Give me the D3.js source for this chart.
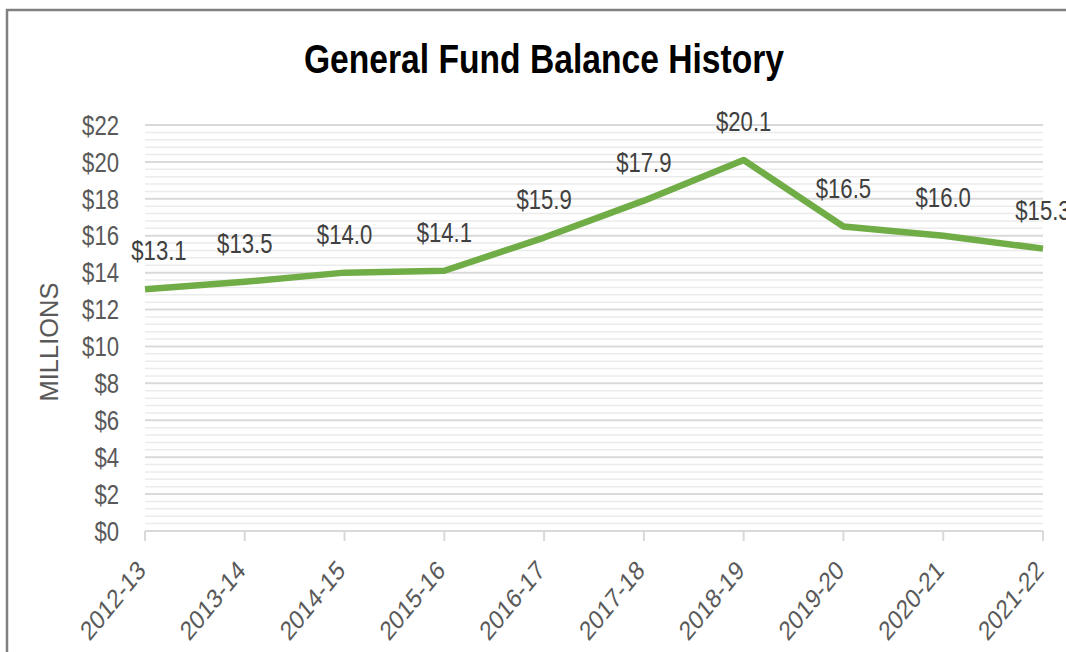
<!DOCTYPE html>
<html>
<head>
<meta charset="utf-8">
<script src="https://cdn.jsdelivr.net/npm/d3@7"></script>
<style>
  body { margin: 0; background: #fff; }
  text { font-family: "Liberation Sans", Arial, sans-serif; }
</style>
</head>
<body>
<svg id="chart" width="1066" height="652"></svg>
<script>
// fiscal years and general fund balance ($ millions)
const years = ["2012-13", "2013-14", "2014-15", "2015-16", "2016-17",
               "2017-18", "2018-19", "2019-20", "2020-21", "2021-22"];
const balances = [13.1, 13.5, 14.0, 14.1, 15.9, 17.9, 20.1, 16.5, 16.0, 15.3];
const yTickValues = [0, 2, 4, 6, 8, 10, 12, 14, 16, 18, 20, 22];

const svg = d3.select("#chart");
const sx = 0.82; // the original text is squeezed horizontally

var margin = {left: 145, right: 1043, top: 125, bottom: 531};

var x = d3.scalePoint()
    .domain(years)
    .range([margin.left, margin.right]);

var y = d3.scaleLinear()
    .domain([0, 22])
    .range([margin.bottom, margin.top]);

// outer frame
svg.append("rect")
    .attr("x", 7)
    .attr("y", 10)
    .attr("width", 1100)
    .attr("height", 700)
    .attr("fill", "#fff")
    .attr("stroke", "#808080")
    .attr("stroke-width", 2.5);

// title
svg.append("text")
    .attr("transform", "translate(544,73) scale(" + sx + ",1)")
    .attr("text-anchor", "middle")
    .attr("font-size", 41)
    .attr("font-weight", "bold")
    .attr("fill", "#000")
    .text("General Fund Balance History");

// minor gridlines
var minor = d3.range(0, 22.001, 0.4).filter(v => Math.abs(v / 2 - Math.round(v / 2)) > 1e-6);
svg.append("g").selectAll("line")
    .data(minor)
  .enter().append("line")
    .attr("x1", margin.left)
    .attr("x2", margin.right)
    .attr("y1", d => y(d))
    .attr("y2", d => y(d))
    .attr("stroke", "#ebebeb")
    .attr("stroke-width", 1.5);

// major gridlines
svg.append("g").selectAll("line")
    .data(yTickValues.filter(d => d > 0))
  .enter().append("line")
    .attr("x1", margin.left)
    .attr("x2", margin.right)
    .attr("y1", d => y(d))
    .attr("y2", d => y(d))
    .attr("stroke", "#d9d9d9")
    .attr("stroke-width", 2);

// y tick labels
svg.append("g").selectAll("text")
    .data(yTickValues)
  .enter().append("text")
    .attr("transform", d => "translate(119," + y(d) + ") scale(" + sx + ",1)")
    .attr("dy", "0.36em")
    .attr("text-anchor", "end")
    .attr("font-size", 27)
    .attr("fill", "#595959")
    .text(d => "$" + d);

// y axis title
svg.append("text")
    .attr("transform", "translate(58,342) rotate(-90)")
    .attr("text-anchor", "middle")
    .attr("font-size", 25.5)
    .attr("fill", "#595959")
    .text("MILLIONS");

// x axis line and ticks
var xAxis = svg.append("g");
xAxis.append("line")
    .attr("x1", margin.left)
    .attr("x2", margin.right)
    .attr("y1", y(0))
    .attr("y2", y(0))
    .attr("stroke", "#d9d9d9")
    .attr("stroke-width", 2);
xAxis.selectAll(".tick")
    .data(years)
  .enter().append("line")
    .attr("class", "tick")
    .attr("x1", d => x(d))
    .attr("x2", d => x(d))
    .attr("y1", y(0))
    .attr("y2", y(0) + 10)
    .attr("stroke", "#d9d9d9")
    .attr("stroke-width", 2);

// x labels, rotated
xAxis.selectAll(".xlab")
    .data(years)
  .enter().append("text")
    .attr("class", "xlab")
    .attr("transform", d => "translate(" + (x(d) + 2) + ",572) scale(" + sx + ",1) rotate(-45)")
    .attr("text-anchor", "end")
    .attr("font-size", 27)
    .attr("fill", "#595959")
    .text(d => d);

// the line
var pts = years.map((d, i) => ({year: d, value: balances[i]}));
var line = d3.line()
    .x(d => x(d.year))
    .y(d => y(d.value));

svg.append("path")
    .datum(pts)
    .attr("d", line)
    .attr("fill", "none")
    .attr("stroke", "#70ad47")
    .attr("stroke-width", 6.5)
    .attr("stroke-linejoin", "round");

// data labels
svg.append("g").selectAll("text")
    .data(pts)
  .enter().append("text")
    .attr("transform", (d, i) => "translate(" + (x(d.year) + (i === 0 ? 14 : 0)) + "," + (y(d.value) - 29) + ") scale(" + sx + ",1)")
    .attr("text-anchor", "middle")
    .attr("font-size", 27)
    .attr("fill", "#404040")
    .text(d => "$" + d.value.toFixed(1));
</script>
</body>
</html>
